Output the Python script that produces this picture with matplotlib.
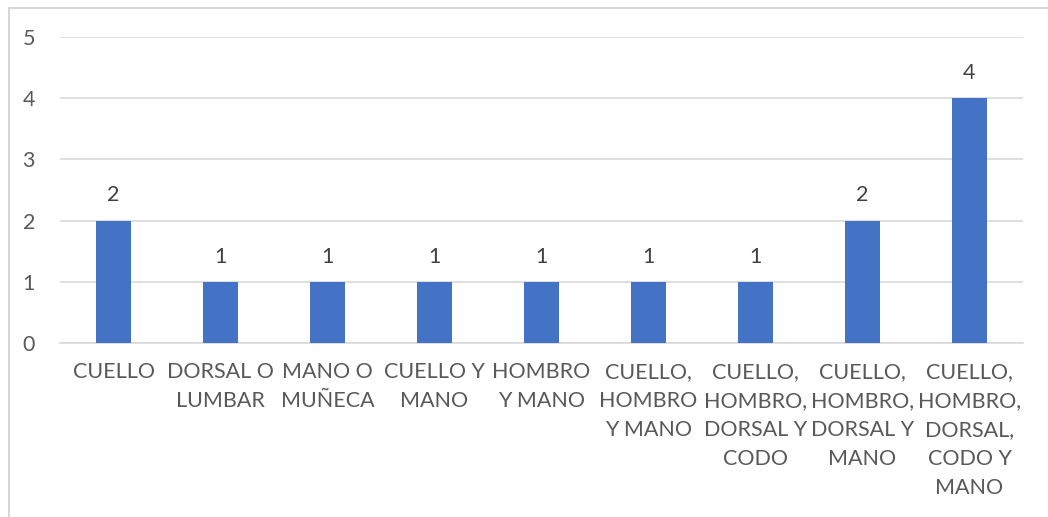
import matplotlib.pyplot as plt
from matplotlib.lines import Line2D

# datos
categorias = [
    "CUELLO",
    "DORSAL O\nLUMBAR",
    "MANO O\nMUÑECA",
    "CUELLO Y\nMANO",
    "HOMBRO\nY MANO",
    "CUELLO,\nHOMBRO\nY MANO",
    "CUELLO,\nHOMBRO,\nDORSAL Y\nCODO",
    "CUELLO,\nHOMBRO,\nDORSAL Y\nMANO",
    "CUELLO,\nHOMBRO,\nDORSAL,\nCODO Y\nMANO",
]
valores = [2, 1, 1, 1, 1, 1, 1, 2, 4]
y_ticks = [0, 1, 2, 3, 4, 5]

AZUL = "#4472C4"
GRIS_TEXTO = "#595959"
GRIS_LINEA = "#D9D9D9"

plt.rcParams["font.family"] = ["Lato", "DejaVu Sans"]


def main():
    fig = plt.figure(figsize=(10.48, 5.17), dpi=100)
    ax = fig.add_axes([0.0573, 0.3366, 0.9188, 0.5918])

    x = list(range(len(categorias)))
    bars = ax.bar(x, valores, width=0.32, color=AZUL, zorder=3)

    for b, v in zip(bars, valores):
        ax.annotate(str(v), (b.get_x() + b.get_width() / 2, v),
                    xytext=(0, 11), textcoords="offset points",
                    ha="center", va="bottom", fontsize=15.5, color="#404040")

    ax.set_xlim(-0.5, len(categorias) - 0.5)
    ax.set_ylim(0, 5)
    ax.set_yticks(y_ticks)
    ax.set_xticks(x)
    ax.set_xticklabels(categorias, fontsize=15.5, color=GRIS_TEXTO,
                       linespacing=1.55, va="top")
    ax.tick_params(axis="y", labelsize=15.5, labelcolor=GRIS_TEXTO, length=0, pad=18)
    ax.tick_params(axis="x", length=0, pad=14)

    ax.grid(axis="y", color=GRIS_LINEA, linewidth=1.2, zorder=0)
    for s in ["top", "right", "left"]:
        ax.spines[s].set_visible(False)
    ax.spines["bottom"].set_color(GRIS_LINEA)
    ax.spines["bottom"].set_linewidth(1.2)

    # marco del gráfico
    fig.add_artist(Line2D([0.0088, 0.0088], [0, 0.985], transform=fig.transFigure,
                          color="#D0D0D0", linewidth=1.2))
    fig.add_artist(Line2D([0.0088, 1], [0.985, 0.985], transform=fig.transFigure,
                          color="#D0D0D0", linewidth=1.2))

    fig.savefig("out.png", dpi=100)


if __name__ == "__main__":
    main()
